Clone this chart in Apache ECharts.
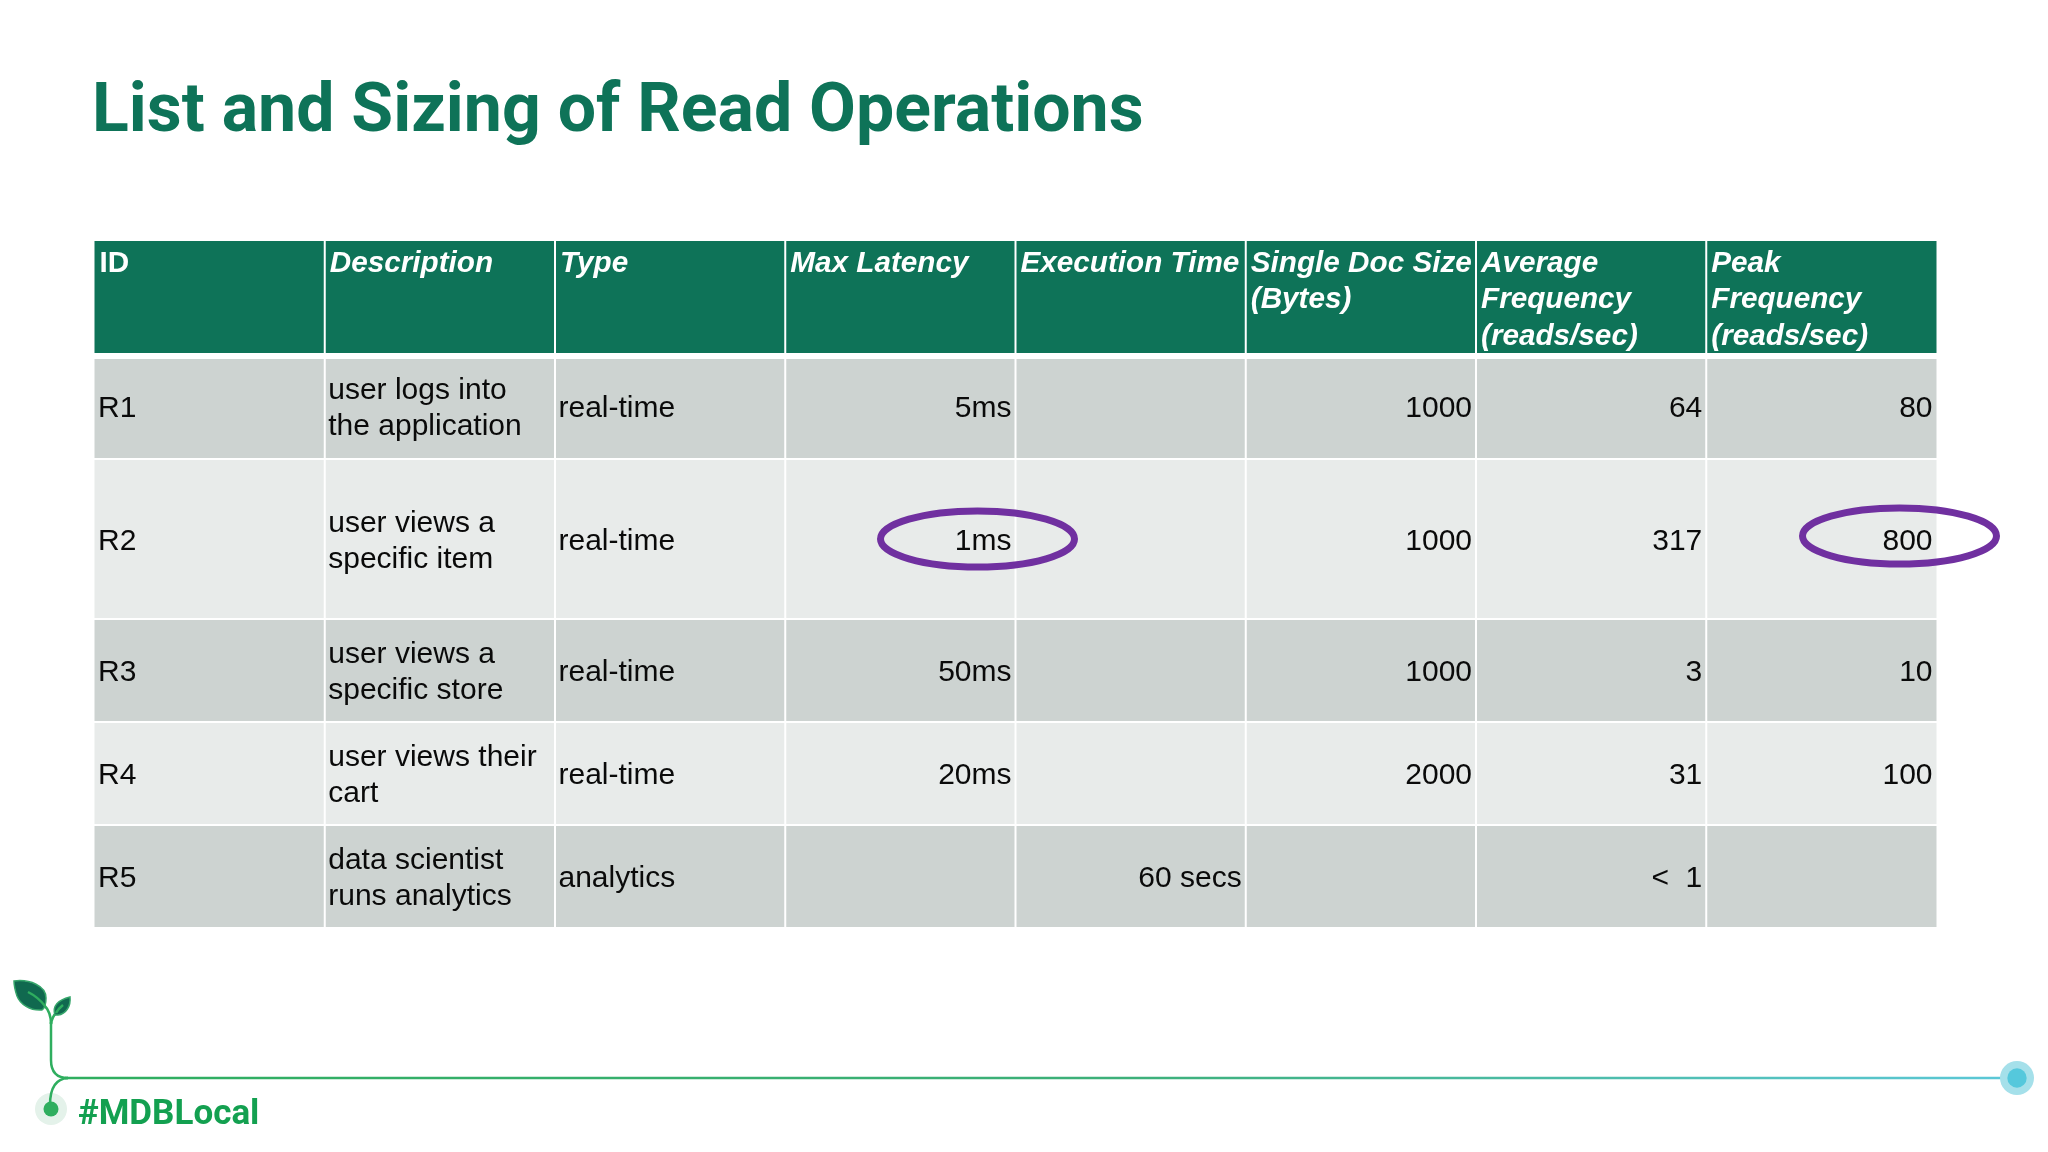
<!DOCTYPE html>
<html><head><meta charset="utf-8">
<style>html,body{margin:0;padding:0;background:#fff}#c{width:2048px;height:1152px}</style>
<script src="https://cdn.jsdelivr.net/npm/echarts@6/dist/echarts.min.js"></script>
</head><body><div id="c"></div>
<script>
const headers = ['ID','Description','Type','Max Latency','Execution Time','Single Doc Size\n(Bytes)','Average\nFrequency\n(reads/sec)','Peak\nFrequency\n(reads/sec)'];
const ids = ['R1','R2','R3','R4','R5'];
const descriptions = ['user logs into\nthe application','user views a\nspecific item','user views a\nspecific store','user views their\ncart','data scientist\nruns analytics'];
const types = ['real-time','real-time','real-time','real-time','analytics'];
const maxLatency = ['5ms','1ms','50ms','20ms',''];
const executionTime = ['','','','','60 secs'];
const docSize = ['1000','1000','1000','2000',''];
const avgFrequency = ['64','317','3','31','<  1'];
const peakFrequency = ['80','800','10','100',''];
const highlighted = [[3,1],[7,1]];

const rowBands = [[0,113],[118,218],[218,378],[378,481],[481,584],[584,686]]; // layout, px from table top
const ellipseShift = [[0,0],[1,-3]];
const columns = [ids,descriptions,types,maxLatency,executionTime,docSize,avgFrequency,peakFrequency];
const rightAligned = [false,false,false,true,true,true,true,true];

const cells = [];
headers.forEach((t,c)=>cells.push({value:[c,0],text:t,head:true}));
columns.forEach((col,c)=>col.forEach((t,r)=>cells.push({value:[c,r+1],text:t,head:false})));

function renderCell(params,api){
  const d = cells[params.dataIndex], c=d.value[0], r=d.value[1];
  const band = rowBands[r];
  const w = api.size([1,0])[0];
  const cx = api.coord([c,0])[0];
  const y0 = api.coord([c,band[0]])[1], y1 = api.coord([c,band[1]])[1];
  const x0 = cx-w/2;
  const fill = d.head ? '#0e7358' : (r%2 ? '#cdd3d1' : '#e8ebea');
  const right = !d.head && rightAligned[c];
  const headFont = c===0 ? 'bold ' : 'italic bold ';
  return {type:'group',children:[
    {type:'rect',shape:{x:x0+(c?1:0),y:y0+(r>1?1:0),width:w-(c?1:0)-(c<7?1:0),height:y1-y0-(r>1?1:0)-(r<5?1:0)},style:{fill}},
    {type:'text',x:right?x0+w-4:x0+(d.head?5:3.5),y:d.head?y0+4.5:(y0+y1)/2+(r===1?0:2.5),
     style:{text:d.text,fill:d.head?'#ffffff':'#0a0a0a',align:right?'right':'left',verticalAlign:d.head?'top':'middle',
       font:(d.head?headFont+'29.7px':'30px')+' "Liberation Sans", Arial, sans-serif',lineHeight:d.head?36.5:36}}
  ]};
}
function renderEllipse(params,api){
  const h = highlighted[params.dataIndex], band = rowBands[h[1]+1], s = ellipseShift[params.dataIndex];
  const w = api.size([1,0])[0];
  const xr = api.coord([h[0],0])[0]+w/2;
  const y = (api.coord([0,band[0]])[1]+api.coord([0,band[1]])[1])/2;
  return {type:'ellipse',shape:{cx:xr-38+s[0],cy:y+s[1],rx:97,ry:28},style:{fill:'none',stroke:'#7030a0',lineWidth:7}};
}
const lineGrad = new echarts.graphic.LinearGradient(0,0,1,0,[{offset:0,color:'#2fae5f'},{offset:0.55,color:'#3db07a'},{offset:1,color:'#5cc8d8'}]);
const stem = (d)=>({type:'path',shape:{pathData:d},style:{fill:'none',stroke:'#2fae5f',lineWidth:2.5}});
const leaf = (d)=>({type:'path',shape:{pathData:d},style:{fill:'#10694f',stroke:'#35a56a',lineWidth:1.5}});
function renderOrnament(){
  return {type:'group',children:[
    {type:'circle',shape:{cx:51,cy:1109,r:16},style:{fill:'#e4f2ea'}},
    {type:'line',shape:{x1:65,y1:1078,x2:2010,y2:1078},style:{stroke:lineGrad,lineWidth:2.5}},
    {type:'circle',shape:{cx:2017,cy:1078,r:17},style:{fill:'#a5e0ea'}},
    {type:'circle',shape:{cx:2017,cy:1078,r:9.7},style:{fill:'#55c8dc'}},
    stem('M51 1022 L51 1060 Q51 1078 68 1078'),
    stem('M68 1078 Q50 1079 50 1105'),
    stem('M51 1024 Q51 1012 44 1005'),
    stem('M51 1024 Q52 1017 56 1013'),
    {type:'circle',shape:{cx:51,cy:1109,r:7.5},style:{fill:'#2fae5f'}},
    leaf('M14 981 C30 979 46 986 46 998 C46 1003 45 1008 42 1010 C30 1011 20 1004 17 996 C15 990 14 985 14 981 Z'),
    leaf('M70 997 C71 1006 66 1014 58 1015 L55 1015 C52 1006 58 1000 70 997 Z'),
    stem('M28 992 Q38 997 45 1006'),
    stem('M56 1013 Q58 1009 63 1005'),
    {type:'text',x:78,y:1115,style:{text:'#MDBLocal',fill:'#13a050',font:'bold 35px Roboto',verticalAlign:'middle'}}
  ]};
}
const chart = echarts.init(document.getElementById('c'),null,{renderer:'canvas'});
chart.setOption({
  backgroundColor:'#ffffff',animation:false,
  title:{text:'List and Sizing of Read Operations',left:87,top:75,textStyle:{color:'#0e7358',fontFamily:'Roboto',fontWeight:'bold',fontSize:68}},
  grid:{left:94.5,top:241,width:1842,height:686},
  xAxis:{type:'category',data:headers,show:false},
  yAxis:{type:'value',min:0,max:686,inverse:true,show:false},
  series:[
    {type:'custom',renderItem:renderCell,data:cells.map(c=>c.value),clip:false,z:2,silent:true},
    {type:'custom',renderItem:renderEllipse,data:highlighted,clip:false,z:3,silent:true},
    {type:'custom',coordinateSystem:'none',renderItem:renderOrnament,data:[0],z:4,silent:true}
  ]
});
</script></body></html>
